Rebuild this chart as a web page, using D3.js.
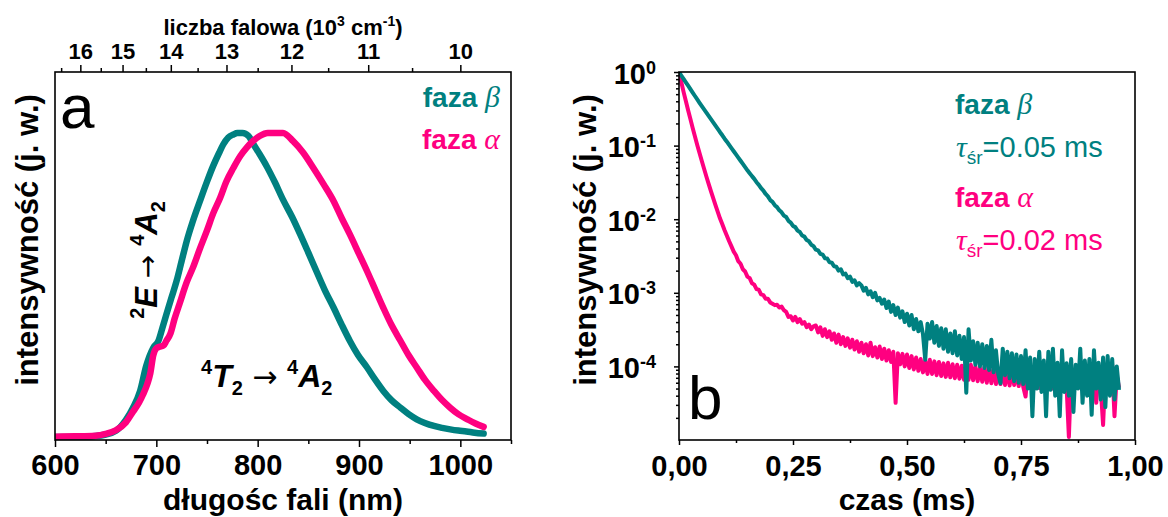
<!DOCTYPE html>
<html>
<head>
<meta charset="utf-8">
<script src="https://cdn.jsdelivr.net/npm/d3@7"></script>
<style>
  html, body { margin: 0; padding: 0; background: #fff; }
  svg { display: block; font-family: "Liberation Sans", Arial, sans-serif; }
</style>
</head>
<body>
<script>
// ---------- Panel a: emission spectra (normalised) ----------
const emissionWavelengthBeta = [600,620,640,650,660,664,670,677,684,690,697,702,706,710,715,720,725,730,736,743,750,756,762,766,771,776,780,785,791,796,802,809,817,825,834,842,850,858,866,875,883,891,899,908,916,924,932,941,949,957,965,974,982,990,998,1006,1014,1023];
const emissionBeta = [0.002,0.002,0.005,0.010,0.022,0.033,0.058,0.098,0.153,0.235,0.295,0.317,0.36,0.405,0.46,0.514,0.58,0.645,0.71,0.776,0.84,0.891,0.935,0.962,0.985,0.995,1.0,1.0,0.99,0.962,0.93,0.89,0.838,0.781,0.724,0.667,0.607,0.546,0.486,0.426,0.37,0.317,0.271,0.230,0.19,0.153,0.123,0.098,0.077,0.060,0.048,0.038,0.032,0.027,0.023,0.020,0.016,0.013];

const emissionWavelengthAlpha = [600,620,640,650,660,670,677,683,687,691,694,697,700,703,707,710,714,718,723,730,736,743,750,756,763,769,776,783,789,796,802,810,818,825,835,845,855,865,875,883,891,900,908,916,924,932,941,949,957,965,974,982,990,998,1007,1015,1023];
const emissionAlpha = [0.003,0.004,0.006,0.012,0.024,0.050,0.085,0.115,0.142,0.175,0.21,0.27,0.293,0.298,0.302,0.318,0.342,0.39,0.44,0.51,0.557,0.62,0.68,0.735,0.787,0.84,0.885,0.925,0.951,0.975,0.99,1.0,1.0,1.0,0.973,0.935,0.885,0.832,0.776,0.72,0.667,0.603,0.546,0.486,0.426,0.37,0.317,0.27,0.23,0.19,0.153,0.123,0.098,0.077,0.060,0.046,0.035];

const wavelengthTicks = [600, 700, 800, 900, 1000];
const wavelengthMinorTicks = [650, 750, 850, 950, 1050];
const wavenumberTicks = [16, 15, 14, 13, 12, 11, 10];          // 10^3 cm^-1
const wavenumberMinorTicks = [16.5, 15.5, 14.5, 13.5, 12.5, 11.5, 10.5];

// ---------- Panel b: luminescence decays (normalised, log scale) ----------
const decayTimeStep = 0.005; // ms between samples, first sample at t = 0
const decayBeta = [
  1, 0.897, 0.807, 0.724, 0.652, 0.585, 0.526, 0.472, 0.425, 0.381,
  0.343, 0.310, 0.280, 0.253, 0.229, 0.207, 0.187, 0.169, 0.152, 0.138,
  0.124, 0.113, 0.102, 0.0925, 0.0838, 0.0759, 0.0687, 0.0622, 0.0564, 0.0511,
  0.0462, 0.0422, 0.0385, 0.0353, 0.0318, 0.0293, 0.0264, 0.0244, 0.0220, 0.0204,
  0.0182, 0.0172, 0.0155, 0.0146, 0.0132, 0.0124, 0.0112, 0.0107, 0.0095, 0.0090,
  0.0081, 0.0078, 0.0070, 0.0067, 0.0060, 0.0058, 0.0052, 0.0050, 0.0045, 0.0043,
  0.00385, 0.00376, 0.00339, 0.00331, 0.00295, 0.00292, 0.00260, 0.00257, 0.00229, 0.00226,
  0.00200, 0.00209, 0.00178, 0.00182, 0.00158, 0.00166, 0.00141, 0.00148, 0.00126, 0.00135,
  1.26e-3, 1.07e-3, 1.17e-3, 9.5e-4, 1.05e-3, 8.7e-4, 1.0e-3, 7.9e-4, 8.5e-4, 7.1e-4,
  8.1e-4, 6.2e-4, 7.6e-4, 5.5e-4, 6.8e-4, 5.0e-4, 6.3e-4, 4.6e-4, 5.6e-4, 4.0e-4,
  5.2e-4, 3.6e-4, 5.0e-4, 3.2e-4, 4.4e-4, 3.0e-4, 4.0e-4, 2.75e-4, 1.23e-4, 3.8e-4,
  2.4e-4, 4.0e-4, 2.1e-4, 3.55e-4, 1.9e-4, 3.3e-4, 1.74e-4, 3.2e-4, 1.58e-4, 2.8e-4,
  1.51e-4, 3.0e-4, 1.41e-4, 2.6e-4, 1.26e-4, 2.5e-4, 4.4e-5, 3.2e-4, 1.2e-4, 2.2e-4,
  1.05e-4, 2.1e-4, 1.0e-4, 2.0e-4, 9.5e-5, 1.9e-4, 8.9e-5, 2.3e-4, 8.3e-5, 1.66e-4,
  7.9e-5, 5.9e-5, 1.74e-4, 7.6e-5, 1.58e-4, 6.9e-5, 1.51e-4, 6.3e-5, 1.45e-4, 6.0e-5,
  1.38e-4, 5.75e-5, 1.66e-4, 5.0e-5, 1.32e-4, 2.1e-5, 1.26e-4, 5.0e-5, 1.58e-4, 4.5e-5,
  1.2e-4, 2.1e-5, 1.58e-4, 4.8e-5, 1.74e-4, 4.0e-5, 1.12e-4, 2.1e-5, 1.66e-4, 4.5e-5,
  1.1e-4, 4.0e-5, 1.26e-4, 2.4e-5, 1.05e-4, 5.0e-5, 1.74e-4, 3.2e-5, 1.2e-4, 4.0e-5,
  1.26e-4, 2.2e-5, 1.66e-4, 5.0e-5, 1.12e-4, 3.55e-5, 1.32e-4, 2.8e-5, 1.38e-4, 4.0e-5,
  1.26e-4, 3.55e-5, 1.0e-4, 4.8e-5
];
const decayAlpha = [
  1, 0.733, 0.537, 0.403, 0.302, 0.229, 0.174, 0.133, 0.102, 0.0794,
  0.0617, 0.0484, 0.0380, 0.0302, 0.0240, 0.0193, 0.0155, 0.0126, 0.0102, 0.00851,
  0.00708, 0.00596, 0.00501, 0.00427, 0.00363, 0.00324, 0.00269, 0.00248, 0.00209, 0.00195,
  0.00166, 0.00158, 0.00135, 0.00129, 0.00112, 0.00110, 0.00095, 0.00093, 0.00083, 0.00083,
  0.00074, 0.00071, 0.00068, 0.00069, 0.00063, 0.00065, 0.00058, 0.00055, 0.00047, 0.00048,
  0.00042, 0.00047, 0.00040, 0.00044, 0.00038, 0.00040, 0.00034, 0.00037, 0.00032, 0.00035,
  3.6e-4, 2.9e-4, 3.4e-4, 2.6e-4, 3.2e-4, 2.5e-4, 3.0e-4, 2.3e-4, 2.8e-4, 2.1e-4,
  2.7e-4, 2.0e-4, 2.5e-4, 1.9e-4, 2.4e-4, 1.8e-4, 2.3e-4, 1.7e-4, 2.2e-4, 1.58e-4,
  2.1e-4, 1.51e-4, 2.0e-4, 1.41e-4, 2.1e-4, 1.38e-4, 1.82e-4, 1.32e-4, 1.86e-4, 1.26e-4,
  1.74e-4, 1.2e-4, 1.66e-4, 1.15e-4, 1.58e-4, 3.2e-5, 1.51e-4, 1.07e-4, 1.48e-4, 1.0e-4,
  1.45e-4, 9.5e-5, 1.38e-4, 9.1e-5, 1.32e-4, 8.7e-5, 1.26e-4, 8.3e-5, 1.2e-4, 7.9e-5,
  1.23e-4, 7.9e-5, 1.17e-4, 7.6e-5, 1.15e-4, 7.4e-5, 1.1e-4, 7.2e-5, 1.12e-4, 7.1e-5,
  1.07e-4, 6.9e-5, 1.05e-4, 6.8e-5, 1.02e-4, 6.6e-5, 1.0e-4, 6.6e-5, 1.05e-4, 6.5e-5,
  1.0e-4, 6.3e-5, 9.5e-5, 6.2e-5, 9.8e-5, 6.0e-5, 9.3e-5, 5.9e-5, 9.5e-5, 5.75e-5,
  9.1e-5, 5.75e-5, 9.3e-5, 5.6e-5, 8.9e-5, 5.5e-5, 9.1e-5, 5.6e-5, 8.7e-5, 5.4e-5,
  8.9e-5, 5.25e-5, 3.9e-5, 8.7e-5, 5.4e-5, 8.5e-5, 5.25e-5, 8.7e-5, 5.1e-5, 8.3e-5,
  5.25e-5, 8.5e-5, 5.1e-5, 8.3e-5, 5.0e-5, 8.5e-5, 5.1e-5, 8.1e-5, 5.0e-5, 8.3e-5,
  5.25e-5, 1.1e-5, 8.1e-5, 5.0e-5, 8.3e-5, 5.1e-5, 7.9e-5, 4.9e-5, 8.3e-5, 5.0e-5,
  8.1e-5, 4.9e-5, 7.9e-5, 3.2e-5, 8.3e-5, 5.0e-5, 1.6e-5, 7.9e-5, 5.0e-5, 8.9e-5,
  1.05e-4, 2.1e-5, 7.6e-5, 5.1e-5
];
const timeTicks = [0, 0.25, 0.5, 0.75, 1.0];
const timeMinorTicks = [0.125, 0.375, 0.625, 0.875];
const decadeExponents = [0, -1, -2, -3, -4];

const seriesNames = ["faza β", "faza α"];
const lifetimes = ["0.05", "0.02"]; // ms
const colorBeta = "#008080";
const colorAlpha = "#ff0080";

// ---------- layout ----------
const W = 1168, H = 517;
const plotTop = 72, plotBottom = 440;
const svg = d3.select("body").append("svg").attr("width", W).attr("height", H);

const SANS = '"Liberation Sans", Arial, sans-serif';
const SERIF = '"Liberation Serif", "Times New Roman", serif';
const SYMB = '"DejaVu Sans", sans-serif';

// text built from styled pieces; shift moves the baseline (positive = down)
function rich(sel, parts) {
  let shift = 0;
  parts.forEach(p => {
    const ts = sel.append("tspan").text(p.t);
    const s = p.shift || 0;
    if (s !== shift) { ts.attr("dy", s - shift); shift = s; }
    ts.attr("font-size", p.size).attr("font-weight", p.weight || "normal")
      .attr("font-style", p.italic ? "italic" : "normal")
      .attr("font-family", p.family || (p.serif ? SERIF : SANS));
    if (p.fill) ts.attr("fill", p.fill);
  });
  return sel;
}

function styleAxis(g) {
  g.select(".domain").remove();
  g.selectAll(".tick line").attr("stroke", "#000").attr("stroke-width", 1.5);
  g.selectAll(".tick text").attr("fill", "#000").attr("font-family", SANS).attr("font-weight", "bold");
}

// ================= Panel a =================
const xL = d3.scaleLinear().domain([600, 1050]).range([55, 511]);
const yL = d3.scaleLinear().domain([-0.008, 1.2]).range([plotBottom, plotTop]);
const gL = svg.append("g");

gL.append("clipPath").attr("id", "clipL").append("rect")
  .attr("x", xL.range()[0]).attr("y", plotTop).attr("width", xL.range()[1] - xL.range()[0]).attr("height", plotBottom - plotTop);

// bottom wavelength axis
const axBL = gL.append("g").attr("transform", `translate(0,${plotBottom})`)
  .call(d3.axisBottom(xL).tickValues(wavelengthTicks).tickSize(7).tickFormat(d3.format("d")));
styleAxis(axBL);
axBL.selectAll(".tick text").attr("font-size", 29).attr("y", 35).attr("dy", null);
const axBLm = gL.append("g").attr("transform", `translate(0,${plotBottom})`)
  .call(d3.axisBottom(xL).tickValues(wavelengthMinorTicks).tickSize(4).tickFormat(""));
styleAxis(axBLm);

// top wavenumber axis (positions in nm, labels in 10^3 cm^-1)
const axTL = gL.append("g").attr("transform", `translate(0,${plotTop})`)
  .call(d3.axisTop(xL).tickValues(wavenumberTicks.map(k => 1e4 / k)).tickSize(7)
    .tickFormat(d => String(Math.round(1e4 / d))));
styleAxis(axTL);
axTL.selectAll(".tick text").attr("font-size", 22).attr("y", -13).attr("dy", null);
const axTLm = gL.append("g").attr("transform", `translate(0,${plotTop})`)
  .call(d3.axisTop(xL).tickValues(wavenumberMinorTicks.map(k => 1e4 / k)).tickSize(4).tickFormat(""));
styleAxis(axTLm);

// spectra
const lineL = (xs) => d3.line().x((d, i) => xL(xs[i])).y(d => yL(d)).curve(d3.curveMonotoneX);
const plotL = gL.append("g").attr("clip-path", "url(#clipL)");
plotL.append("path").datum(emissionBeta).attr("d", lineL(emissionWavelengthBeta))
  .attr("fill", "none").attr("stroke", colorBeta).attr("stroke-width", 6.5)
  .attr("stroke-linejoin", "round").attr("stroke-linecap", "round");
plotL.append("path").datum(emissionAlpha).attr("d", lineL(emissionWavelengthAlpha))
  .attr("fill", "none").attr("stroke", colorAlpha).attr("stroke-width", 6.5)
  .attr("stroke-linejoin", "round").attr("stroke-linecap", "round");

// frame
gL.append("rect").attr("x", xL.range()[0]).attr("y", plotTop)
  .attr("width", xL.range()[1] - xL.range()[0]).attr("height", plotBottom - plotTop)
  .attr("fill", "none").attr("stroke", "#000").attr("stroke-width", 1.6);

// axis titles
gL.append("text").attr("x", 283).attr("y", 510).attr("text-anchor", "middle")
  .attr("font-size", 30).attr("font-weight", "bold").text("długośc fali (nm)");
rich(gL.append("text").attr("x", 283).attr("y", 35).attr("text-anchor", "middle"), [
  { t: "liczba falowa (10", size: 22, weight: "bold" },
  { t: "3", size: 14, weight: "bold", shift: -9 },
  { t: " cm", size: 22, weight: "bold" },
  { t: "-1", size: 14, weight: "bold", shift: -9 },
  { t: ")", size: 22, weight: "bold" }
]);
gL.append("text").attr("transform", "translate(38,240) rotate(-90)").attr("text-anchor", "middle")
  .attr("font-size", 31).attr("font-weight", "bold").text("intensywność (j. w.)");

// panel letter and legend
gL.append("text").attr("x", 60).attr("y", 128).attr("font-size", 62).text("a");
rich(gL.append("text").attr("x", 500).attr("y", 107).attr("text-anchor", "end").attr("fill", colorBeta), [
  { t: "faza ", size: 28, weight: "bold" }, { t: "β", size: 30, italic: true, serif: true }
]);
rich(gL.append("text").attr("x", 500).attr("y", 149).attr("text-anchor", "end").attr("fill", colorAlpha), [
  { t: "faza ", size: 28, weight: "bold" }, { t: "α", size: 30, italic: true, serif: true }
]);

// transition labels
rich(gL.append("text").attr("x", 201).attr("y", 387), [
  { t: "4", size: 20, weight: "bold", shift: -13 },
  { t: "T", size: 32, weight: "bold", italic: true },
  { t: "2", size: 20, weight: "bold", shift: 8 },
  { t: " → ", size: 30, family: SYMB },
  { t: "4", size: 20, weight: "bold", shift: -13 },
  { t: "A", size: 32, weight: "bold", italic: true },
  { t: "2", size: 20, weight: "bold", shift: 8 }
]);
rich(gL.append("text").attr("transform", "translate(157,260) rotate(-90)").attr("text-anchor", "middle"), [
  { t: "2", size: 20, weight: "bold", shift: -13 },
  { t: "E", size: 31, weight: "bold", italic: true },
  { t: " → ", size: 28, family: SYMB },
  { t: "4", size: 20, weight: "bold", shift: -13 },
  { t: "A", size: 31, weight: "bold", italic: true },
  { t: "2", size: 20, weight: "bold", shift: 8 }
]);

// ================= Panel b =================
const xR = d3.scaleLinear().domain([0, 1]).range([679, 1135]);
const yR = d3.scaleLog().domain([1e-5, 1]).range([plotBottom, plotTop]);
const gR = svg.append("g");

gR.append("clipPath").attr("id", "clipR").append("rect")
  .attr("x", xR.range()[0]).attr("y", plotTop).attr("width", xR.range()[1] - xR.range()[0]).attr("height", plotBottom - plotTop);

// bottom time axis
const axBR = gR.append("g").attr("transform", `translate(0,${plotBottom})`)
  .call(d3.axisBottom(xR).tickValues(timeTicks).tickSize(5).tickFormat(d => d.toFixed(2).replace(".", ",")));
styleAxis(axBR);
axBR.selectAll(".tick text").attr("font-size", 29).attr("y", 36).attr("dy", null);
const axBRm = gR.append("g").attr("transform", `translate(0,${plotBottom})`)
  .call(d3.axisBottom(xR).tickValues(timeMinorTicks).tickSize(3).tickFormat(""));
styleAxis(axBRm);

// left log axis
const majorDecades = decadeExponents.map(e => Math.pow(10, e));
const minorDecades = [];
[-5, -4, -3, -2, -1].forEach(e => [2, 3, 4, 5, 6, 7, 8, 9].forEach(m => minorDecades.push(m * Math.pow(10, e))));
const axLR = gR.append("g").attr("transform", `translate(${xR.range()[0]},0)`)
  .call(d3.axisLeft(yR).tickValues(majorDecades).tickSize(5).tickFormat(""));
styleAxis(axLR);
axLR.selectAll(".tick").each(function (d, i) {
  const t = d3.select(this).append("text").attr("x", -23).attr("y", 11)
    .attr("text-anchor", "end").attr("fill", "#000");
  rich(t, [
    { t: "10", size: 29, weight: "bold" },
    { t: String(decadeExponents[i]), size: 18, weight: "bold", shift: -10 }
  ]);
});
const axLRm = gR.append("g").attr("transform", `translate(${xR.range()[0]},0)`)
  .call(d3.axisLeft(yR).tickValues(minorDecades).tickSize(3).tickFormat(""));
styleAxis(axLRm);

// decay curves
const lineR = d3.line().x((d, i) => xR(i * decayTimeStep)).y(d => yR(d));
const plotR = gR.append("g").attr("clip-path", "url(#clipR)");
plotR.append("path").datum(decayAlpha).attr("d", lineR)
  .attr("fill", "none").attr("stroke", colorAlpha).attr("stroke-width", 4).attr("stroke-linejoin", "round");
plotR.append("path").datum(decayBeta).attr("d", lineR)
  .attr("fill", "none").attr("stroke", colorBeta).attr("stroke-width", 4).attr("stroke-linejoin", "round");

// frame
gR.append("rect").attr("x", xR.range()[0]).attr("y", plotTop)
  .attr("width", xR.range()[1] - xR.range()[0]).attr("height", plotBottom - plotTop)
  .attr("fill", "none").attr("stroke", "#000").attr("stroke-width", 1.6);

// axis titles
gR.append("text").attr("x", 907).attr("y", 510).attr("text-anchor", "middle")
  .attr("font-size", 30).attr("font-weight", "bold").text("czas (ms)");
gR.append("text").attr("transform", "translate(596,240) rotate(-90)").attr("text-anchor", "middle")
  .attr("font-size", 31).attr("font-weight", "bold").text("intensywność (j. w.)");

// panel letter and legend with average lifetimes
gR.append("text").attr("x", 688).attr("y", 419).attr("font-size", 62).text("b");
const legendR = [
  { name: seriesNames[0], tau: lifetimes[0], color: colorBeta, y: 114 },
  { name: seriesNames[1], tau: lifetimes[1], color: colorAlpha, y: 207 }
];
legendR.forEach(L => {
  const [word, greek] = L.name.split(" ");
  rich(gR.append("text").attr("x", 955).attr("y", L.y).attr("fill", L.color), [
    { t: word + " ", size: 28, weight: "bold" }, { t: greek, size: 30, italic: true, serif: true }
  ]);
  rich(gR.append("text").attr("x", 956).attr("y", L.y + 43).attr("fill", L.color), [
    { t: "τ", size: 30, italic: true, serif: true },
    { t: "śr", size: 19, shift: 7 },
    { t: "=" + L.tau + " ms", size: 29 }
  ]);
});
</script>
</body>
</html>
